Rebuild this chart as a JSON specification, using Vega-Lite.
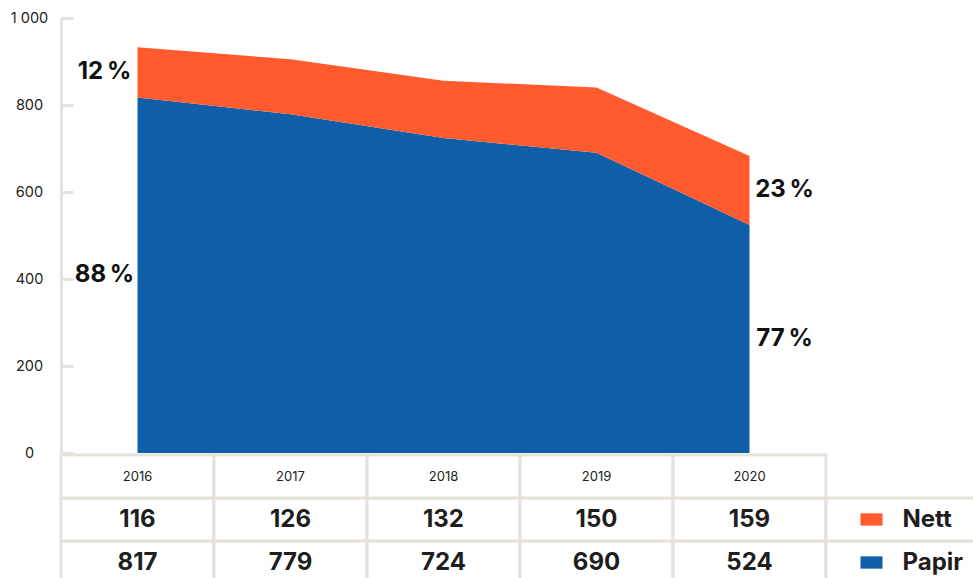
{
  "$schema": "https://vega.github.io/schema/vega-lite/v6.json",
  "padding": {"left": 10, "top": 10, "right": 0, "bottom": 0},
  "background": "white",
  "config": {"view": {"stroke": null}, "font": "Inter"},
  "bounds": "flush",
  "spacing": 2,
  "datasets": {
    "sales": [
      {"year": "2016", "series": "Papir", "value": 817},
      {"year": "2016", "series": "Nett", "value": 116},
      {"year": "2017", "series": "Papir", "value": 779},
      {"year": "2017", "series": "Nett", "value": 126},
      {"year": "2018", "series": "Papir", "value": 724},
      {"year": "2018", "series": "Nett", "value": 132},
      {"year": "2019", "series": "Papir", "value": 690},
      {"year": "2019", "series": "Nett", "value": 150},
      {"year": "2020", "series": "Papir", "value": 524},
      {"year": "2020", "series": "Nett", "value": 159}
    ]
  },
  "vconcat": [
    {
      "width": 765,
      "height": 435,
      "data": {"name": "sales"},
      "transform": [
        {"stack": "value", "groupby": ["year"], "sort": [{"field": "series", "order": "descending"}], "as": ["v0", "v1"]},
        {"joinaggregate": [{"op": "sum", "field": "value", "as": "total"}], "groupby": ["year"]},
        {"calculate": "(datum.v0 + datum.v1) / 2", "as": "mid"},
        {"calculate": "format(datum.value / datum.total * 100, '.0f') + '\u2009%'", "as": "pct"}
      ],
      "encoding": {
        "x": {"field": "year", "type": "ordinal", "scale": {"type": "point", "padding": 0.5}, "axis": null}
      },
      "layer": [
        {
          "mark": {"type": "area", "opacity": 1},
          "encoding": {
            "y": {"field": "v1", "type": "quantitative", "scale": {"domain": [0, 1000], "nice": false},
              "axis": {"values": [0, 200, 400, 600, 800, 1000], "title": null, "grid": false,
                "domainColor": "#e6e2da", "domainWidth": 3, "tickColor": "#e6e2da", "tickWidth": 3, "tickSize": -12,
                "labelPadding": 44, "labelAlign": "center", "labelFontSize": 14.5, "labelColor": "#222222", "labelFont": "Inter",
                "labelExpr": "replace(format(datum.value, ','), ',', ' ')"}},
            "y2": {"field": "v0"},
            "color": {"field": "series", "type": "nominal", "scale": {"domain": ["Nett", "Papir"], "range": ["#ff5b2f", "#0e5ea8"]}, "legend": null}
          }
        },
        {
          "transform": [{"filter": "datum.year == '2016'"}],
          "mark": {"type": "text", "dx": -33, "align": "center", "baseline": "middle", "fontSize": 24, "fontWeight": "bold", "color": "#111111"},
          "encoding": {"y": {"field": "mid", "type": "quantitative"}, "text": {"field": "pct"}}
        },
        {
          "transform": [{"filter": "datum.year == '2020'"}],
          "mark": {"type": "text", "dx": 35, "align": "center", "baseline": "middle", "fontSize": 24, "fontWeight": "bold", "color": "#111111"},
          "encoding": {"y": {"field": "mid", "type": "quantitative"}, "text": {"field": "pct"}}
        }
      ]
    },
    {
      "width": 918,
      "height": 129,
      "data": {"name": "sales"},
      "encoding": {},
      "layer": [
        {
          "mark": {"type": "rect", "fill": "white", "stroke": "#e6e2da", "strokeWidth": 3},
          "encoding": {
            "x": {"field": "year", "type": "nominal", "scale": {"type": "band", "domain": ["2016", "2017", "2018", "2019", "2020", "Legend"], "paddingInner": 0, "paddingOuter": 0}, "axis": null},
            "y": {"field": "series", "type": "nominal", "scale": {"type": "band", "domain": ["year", "Nett", "Papir"], "paddingInner": 0, "paddingOuter": 0}, "axis": null}
          }
        },
        {
          "transform": [{"filter": "datum.series == 'Papir'"}],
          "mark": {"type": "rect", "fill": "white", "stroke": "#e6e2da", "strokeWidth": 3},
          "encoding": {
            "x": {"field": "year", "type": "nominal"},
            "y": {"datum": "year", "type": "nominal"}
          }
        },
        {
          "transform": [{"filter": "datum.year == '2016'"}],
          "mark": {"type": "rect", "fill": "white", "stroke": "#e6e2da", "strokeWidth": 3},
          "encoding": {
            "x": {"datum": "Legend", "type": "nominal"},
            "y": {"field": "series", "type": "nominal"}
          }
        },
        {
          "transform": [{"filter": "datum.series == 'Papir'"}],
          "mark": {"type": "text", "fontSize": 13, "color": "#222222", "baseline": "middle"},
          "encoding": {
            "x": {"field": "year", "type": "nominal"},
            "y": {"datum": "year", "type": "nominal"},
            "text": {"field": "year"}
          }
        },
        {
          "mark": {"type": "text", "fontSize": 24, "fontWeight": "bold", "color": "#1e1e1e", "baseline": "middle"},
          "encoding": {
            "x": {"field": "year", "type": "nominal"},
            "y": {"field": "series", "type": "nominal"},
            "text": {"field": "value", "type": "quantitative"}
          }
        },
        {
          "transform": [{"filter": "datum.year == '2016'"}],
          "mark": {"type": "point", "shape": "M-1,-0.56L1,-0.56L1,0.56L-1,0.56Z", "size": 484, "filled": true, "opacity": 1, "strokeWidth": 0, "xOffset": -31},
          "encoding": {
            "x": {"datum": "Legend", "type": "nominal"},
            "y": {"field": "series", "type": "nominal"},
            "color": {"field": "series", "type": "nominal", "legend": null}
          }
        },
        {
          "transform": [{"filter": "datum.year == '2016'"}],
          "mark": {"type": "text", "fontSize": 24, "fontWeight": "bold", "color": "#1e1e1e", "align": "left", "baseline": "middle"},
          "encoding": {
            "x": {"datum": "Legend", "type": "nominal"},
            "y": {"field": "series", "type": "nominal"},
            "text": {"field": "series"}
          }
        }
      ]
    }
  ]
}
